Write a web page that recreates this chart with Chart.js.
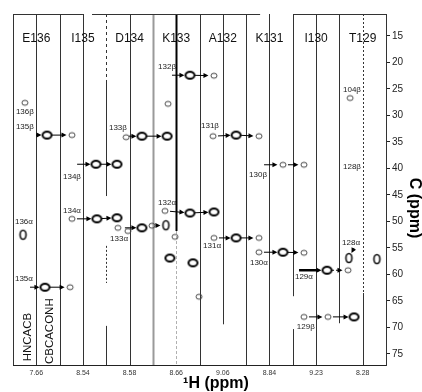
<!DOCTYPE html>
<html>
<head>
<meta charset="utf-8">
<script src="https://cdn.jsdelivr.net/npm/chart.js@4.4.0/dist/chart.umd.min.js"></script>
<style>
  body { margin: 0; background: #fff; }
  #wrap { width: 422px; height: 392px; }
</style>
</head>
<body>
<div id="wrap"><canvas id="strips"></canvas></div>
<script>
// Residue strips (each residue = HNCACB strip + CBCACONH strip)
const residues = ["E136", "I135", "D134", "K133", "A132", "K131", "I130", "T129"];
const hShifts = ["7.66", "8.54", "8.58", "8.66", "9.06", "8.84", "9.23", "8.28"];
const cTicks = [15, 20, 25, 30, 35, 40, 45, 50, 55, 60, 65, 70, 75];

// Peaks: x = strip position, y = 13C shift (ppm)
const strongPeaks = [
  { x: 1.46, y: 33.7 }, { x: 3.56, y: 39.2 }, { x: 4.46, y: 39.2 },
  { x: 5.53, y: 33.9 }, { x: 6.61, y: 33.9 }, { x: 7.59, y: 22.4 },
  { x: 9.57, y: 33.7 }, { x: 3.60, y: 49.5 }, { x: 4.46, y: 49.3 },
  { x: 5.53, y: 51.2 }, { x: 7.59, y: 48.4 }, { x: 8.62, y: 48.2 },
  { x: 9.57, y: 53.1 }, { x: 11.58, y: 55.8 }, { x: 1.37, y: 62.4 },
  { x: 13.47, y: 59.2 }, { x: 6.73, y: 56.9 }, { x: 7.72, y: 57.8 },
  { x: 14.63, y: 68.0 }
];
const weakPeaks = [
  { x: 2.53, y: 33.7 }, { x: 4.85, y: 34.1 }, { x: 8.62, y: 22.5 },
  { x: 8.58, y: 33.9 }, { x: 10.55, y: 33.9 }, { x: 11.58, y: 39.3 },
  { x: 12.48, y: 39.3 }, { x: 14.46, y: 26.7 }, { x: 0.51, y: 27.6 },
  { x: 6.65, y: 27.8 }, { x: 2.53, y: 49.5 }, { x: 4.50, y: 51.2 },
  { x: 4.93, y: 51.8 }, { x: 5.96, y: 50.8 }, { x: 6.52, y: 48.0 },
  { x: 8.62, y: 53.1 }, { x: 10.55, y: 53.1 }, { x: 10.55, y: 55.8 },
  { x: 12.48, y: 55.9 }, { x: 12.48, y: 68.0 }, { x: 13.51, y: 68.0 },
  { x: 7.98, y: 64.2 }, { x: 6.95, y: 52.9 }, { x: 2.45, y: 62.4 },
  { x: 14.37, y: 59.2 }
];
const tallPeaks = [
  { x: 0.43, y: 52.5 }, { x: 15.61, y: 57.1 }, { x: 6.56, y: 50.7 },
  { x: 14.41, y: 56.9 }
];

// Sequential connectivity walks (tail = starts without a peak)
const walks = [
  { tail: true, pts: [[0.99, 33.7], [1.46, 33.7], [2.53, 33.7]] },
  { tail: true, pts: [[2.75, 39.2], [3.56, 39.2], [4.46, 39.2]] },
  { tail: true, pts: [[4.98, 33.9], [5.53, 33.9], [6.61, 33.9]] },
  { tail: true, pts: [[6.82, 22.4], [7.59, 22.4], [8.62, 22.5]] },
  { tail: false, pts: [[8.58, 33.9], [9.57, 33.7], [10.55, 33.9]] },
  { tail: true, pts: [[10.77, 39.3], [11.58, 39.3], [12.48, 39.3]] },
  { tail: false, pts: [[2.53, 49.5], [3.60, 49.5], [4.46, 49.3]] },
  { tail: true, pts: [[4.80, 51.2], [5.53, 51.2]] },
  { tail: false, pts: [[5.96, 50.8], [6.56, 50.7]] },
  { tail: false, pts: [[6.52, 48.0], [7.59, 48.4], [8.62, 48.2]] },
  { tail: false, pts: [[8.62, 53.1], [9.57, 53.1], [10.55, 53.1]] },
  { tail: false, pts: [[10.55, 55.8], [11.58, 55.8], [12.48, 55.9]] },
  { tail: true, width: 2.5, pts: [[12.27, 59.2], [13.47, 59.2]] },
  { tail: false, dash: [2, 2], pts: [[13.47, 59.2], [14.37, 59.2]] },
  { tail: true, pts: [[14.63, 55.0], [14.50, 56.1]] },
  { tail: false, pts: [[12.48, 68.0], [13.51, 68.0], [14.63, 68.0]] },
  { tail: true, pts: [[0.73, 62.4], [1.37, 62.4], [2.45, 62.4]] }
];

const peakLabels = [
  ["136β", 0.51, 29.3], ["135β", 0.51, 32.2], ["134β", 2.53, 41.6],
  ["133β", 4.50, 32.4], ["132β", 6.61, 20.8], ["131β", 8.45, 32.0],
  ["130β", 10.51, 41.2], ["104β", 14.54, 25.2], ["128β", 14.54, 39.7],
  ["136α", 0.47, 50.1], ["134α", 2.53, 48.0], ["133α", 4.55, 53.3],
  ["132α", 6.61, 46.5], ["131α", 8.54, 54.6], ["130α", 10.55, 57.8],
  ["129α", 12.48, 60.5], ["128α", 14.50, 54.1], ["129β", 12.56, 69.9],
  ["135α", 0.47, 60.8]
];

const Y_TOP = 10.85, Y_BOT = 77.08;

// strip separators, some broken like the scanned original
const stripLines = [
  { x: 1, from: Y_TOP, to: Y_BOT }, { x: 2, from: Y_TOP, to: Y_BOT },
  { x: 3, from: Y_TOP, to: Y_BOT },
  { x: 4, from: Y_TOP, to: 23.3, dash: [3, 3] }, { x: 4, from: 23.3, to: 45.2 },
  { x: 4, from: 54.6, to: 61.6, dash: [2, 2] }, { x: 4, from: 69.7, to: Y_BOT },
  { x: 5, from: Y_TOP, to: Y_BOT },
  { x: 6, from: Y_TOP, to: Y_BOT, color: "#9a9a9a", width: 2 },
  { x: 7, from: Y_TOP, to: 51.8, color: "#000", width: 2 },
  { x: 7, from: 51.8, to: Y_BOT, color: "#b0b0b0", dash: [3, 2] },
  { x: 8, from: Y_TOP, to: Y_BOT }, { x: 9, from: Y_TOP, to: 69.4 },
  { x: 10, from: Y_TOP, to: Y_BOT }, { x: 11, from: Y_TOP, to: Y_BOT },
  { x: 12, from: Y_TOP, to: 64.1 }, { x: 12, from: 70.3, to: Y_BOT },
  { x: 13, from: Y_TOP, to: Y_BOT }, { x: 14, from: Y_TOP, to: 69.2 },
  { x: 15, from: Y_TOP, to: 63.5, dash: [2, 2] }, { x: 15, from: 63.5, to: Y_BOT },
  { x: 0, from: Y_TOP, to: Y_BOT }
];
const topFrame = [[0, 3.0], [3.39, 10.6], [12.05, 16]];

function peakImage(w, h, lw, color) {
  const c = document.createElement("canvas");
  c.width = w + lw * 2 + 2;
  c.height = h + lw * 2 + 2;
  const g = c.getContext("2d");
  g.strokeStyle = color;
  g.lineWidth = lw;
  g.beginPath();
  g.ellipse(c.width / 2, c.height / 2, w / 2, h / 2, 0, 0, Math.PI * 2);
  g.stroke();
  return c;
}

const framePlugin = {
  id: "frame",
  beforeDatasetsDraw(chart) {
    const { ctx, scales: { x, y } } = chart;
    ctx.save();
    stripLines.forEach(s => {
      ctx.strokeStyle = s.color || "#333";
      ctx.lineWidth = s.width || 1;
      ctx.setLineDash(s.dash || []);
      const px = Math.round(x.getPixelForValue(s.x)) + 0.5;
      ctx.beginPath();
      ctx.moveTo(px, y.getPixelForValue(s.from));
      ctx.lineTo(px, y.getPixelForValue(s.to));
      ctx.stroke();
    });
    ctx.setLineDash([]);
    ctx.strokeStyle = "#333";
    ctx.lineWidth = 1;
    const ty = Math.round(y.getPixelForValue(Y_TOP)) + 0.5;
    topFrame.forEach(([a, b]) => {
      ctx.beginPath();
      ctx.moveTo(x.getPixelForValue(a), ty);
      ctx.lineTo(x.getPixelForValue(b), ty);
      ctx.stroke();
    });
    ctx.restore();
  }
};

const annotationPlugin = {
  id: "annotations",
  afterDatasetsDraw(chart) {
    const { ctx, scales: { x, y } } = chart;
    ctx.save();
    // arrows
    walks.forEach(w => {
      ctx.strokeStyle = "#000";
      ctx.fillStyle = "#000";
      ctx.lineWidth = w.width || 1;
      for (let i = 0; i < w.pts.length - 1; i++) {
        const ax = x.getPixelForValue(w.pts[i][0]), ay = y.getPixelForValue(w.pts[i][1]);
        const bx = x.getPixelForValue(w.pts[i + 1][0]), by = y.getPixelForValue(w.pts[i + 1][1]);
        const len = Math.hypot(bx - ax, by - ay);
        const ux = (bx - ax) / len, uy = (by - ay) / len;
        const s = (i === 0 && w.tail) ? 0 : 5;
        const e = w.pts.length === 2 && w.tail && len < 10 ? 1 : 5.5;
        const sx = ax + ux * s, sy = ay + uy * s;
        const ex = bx - ux * e, ey = by - uy * e;
        ctx.setLineDash(w.dash || []);
        ctx.beginPath();
        ctx.moveTo(sx, sy);
        ctx.lineTo(ex - ux * 3, ey - uy * 3);
        ctx.stroke();
        ctx.setLineDash([]);
        ctx.beginPath();
        ctx.moveTo(ex, ey);
        ctx.lineTo(ex - ux * 5 - uy * 2.5, ey - uy * 5 + ux * 2.5);
        ctx.lineTo(ex - ux * 5 + uy * 2.5, ey - uy * 5 - ux * 2.5);
        ctx.closePath();
        ctx.fill();
      }
    });
    // peak labels
    ctx.fillStyle = "#222";
    ctx.font = "8px 'Liberation Sans', Arial, sans-serif";
    ctx.textAlign = "center";
    ctx.textBaseline = "middle";
    peakLabels.forEach(([t, px, py]) => {
      ctx.fillText(t, x.getPixelForValue(px), y.getPixelForValue(py));
    });
    // residue names
    ctx.fillStyle = "#111";
    ctx.font = "12px 'Liberation Sans', Arial, sans-serif";
    residues.forEach((r, i) => {
      ctx.fillText(r, x.getPixelForValue(2 * i + 1), y.getPixelForValue(15.6));
    });
    // experiment names, vertical
    ctx.font = "11.5px 'Liberation Sans', Arial, sans-serif";
    [["HNCACB", 0.64, 71.8], ["CBCACONH", 1.59, 70.7]].forEach(([t, px, py]) => {
      ctx.save();
      ctx.translate(x.getPixelForValue(px), y.getPixelForValue(py));
      ctx.rotate(-Math.PI / 2);
      ctx.fillText(t, 0, 0);
      ctx.restore();
    });
    // axis titles
    ctx.fillStyle = "#000";
    ctx.font = "bold 16px 'Liberation Sans', Arial, sans-serif";
    ctx.fillText("¹H (ppm)", 216, 384);
    ctx.save();
    ctx.translate(414, 208);
    ctx.rotate(Math.PI / 2);
    ctx.fillText("C (ppm)", 0, 0);
    ctx.restore();
    ctx.restore();
  }
};

function renderStrips() {
  const ctx = document.getElementById("strips").getContext("2d");
  new Chart(ctx, {
    type: "scatter",
    data: {
      datasets: [
        { data: strongPeaks, pointStyle: peakImage(9, 7, 2, "#000") },
        { data: weakPeaks, pointStyle: peakImage(6, 5, 1, "#444") },
        { data: tallPeaks, pointStyle: peakImage(6, 9, 1.6, "#111") }
      ]
    },
    options: {
      responsive: true,
      maintainAspectRatio: false,
      animation: false,
      layout: { padding: { left: 13, top: 14, right: 0, bottom: 0 } },
      plugins: { legend: { display: false }, tooltip: { enabled: false } },
      scales: {
        x: {
          type: "linear", position: "bottom", min: 0, max: 16,
          afterBuildTicks: s => { s.ticks = hShifts.map((_, i) => ({ value: 2 * i + 1 })); },
          afterFit: s => { s.height = 27; },
          grid: { display: false, drawTicks: false },
          border: { display: true, color: "#222" },
          ticks: {
            autoSkip: false, maxRotation: 0, padding: 4, color: "#333",
            font: { size: 7, family: "'Liberation Sans', Arial, sans-serif" },
            callback: v => hShifts[(v - 1) / 2]
          }
        },
        y: {
          type: "linear", position: "right", reverse: true, min: Y_TOP, max: Y_BOT,
          afterBuildTicks: s => { s.ticks = cTicks.map(v => ({ value: v })); },
          afterFit: s => { s.width = 36; },
          grid: { display: true, drawOnChartArea: false, drawTicks: true, tickLength: 4, color: "#222" },
          border: { display: true, color: "#333", dash: [2, 2] },
          ticks: {
            padding: 2, color: "#222",
            font: { size: 10, family: "'Liberation Sans', Arial, sans-serif" }
          }
        }
      }
    },
    plugins: [framePlugin, annotationPlugin]
  });
}

document.addEventListener("DOMContentLoaded", renderStrips);
</script>
</body>
</html>
